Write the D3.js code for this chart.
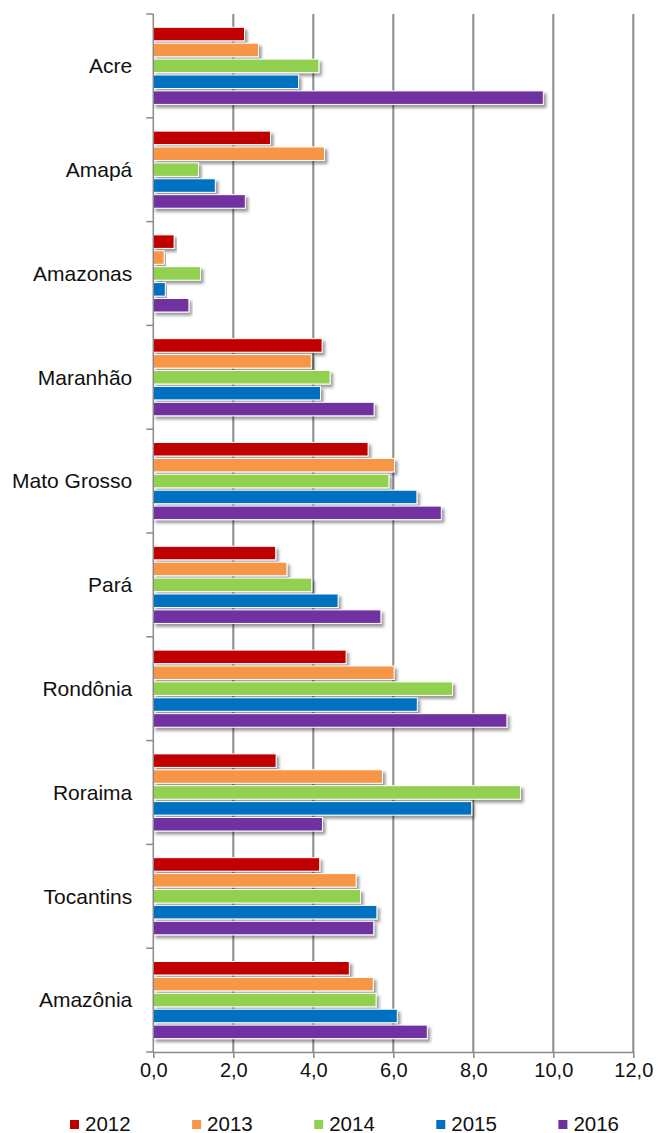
<!DOCTYPE html>
<html>
<head>
<meta charset="utf-8">
<script src="https://cdn.jsdelivr.net/npm/d3@7/dist/d3.min.js"></script>
<style>
  html, body { margin: 0; padding: 0; background: #fff; }
  svg { display: block; font-family: "Liberation Sans", Arial, sans-serif; }
</style>
</head>
<body>
<svg id="chart" width="658" height="1133"></svg>
<script>
// Regions (top to bottom)
const categories = ["Acre", "Amapá", "Amazonas", "Maranhão", "Mato Grosso", "Pará", "Rondônia", "Roraima", "Tocantins", "Amazônia"];
const years = ["2012", "2013", "2014", "2015", "2016"];
const colors = ["#C00000", "#F79646", "#92D050", "#0070C0", "#7030A0"];

// Values per year, in the same order as categories
const v2012 = [2.28, 2.93, 0.52, 4.22, 5.37, 3.06, 4.82, 3.07, 4.16, 4.90];
const v2013 = [2.63, 4.28, 0.27, 3.95, 6.03, 3.34, 6.02, 5.73, 5.07, 5.50];
const v2014 = [4.14, 1.13, 1.18, 4.42, 5.89, 3.96, 7.48, 9.18, 5.18, 5.57];
const v2015 = [3.63, 1.55, 0.30, 4.18, 6.59, 4.62, 6.60, 7.96, 5.59, 6.10];
const v2016 = [9.75, 2.30, 0.89, 5.52, 7.20, 5.69, 8.84, 4.23, 5.51, 6.85];
const seriesValues = [v2012, v2013, v2014, v2015, v2016];

const xTicks = [0, 2, 4, 6, 8, 10, 12];

const svg = d3.select("#chart");
const margin = { left: 153.3, right: 24.7, top: 14, bottom: 81 };
const W = 658, H = 1133;
const plotW = W - margin.left - margin.right;
const plotH = H - margin.top - margin.bottom;

const defs = svg.append("defs");
const shadow = defs.append("filter").attr("id", "barShadow")
  .attr("x", "-5%").attr("y", "-40%").attr("width", "115%").attr("height", "200%");
shadow.append("feDropShadow")
  .attr("dx", 2.5).attr("dy", 3).attr("stdDeviation", 1.8)
  .attr("flood-color", "#000").attr("flood-opacity", 0.4);

const g = svg.append("g").attr("transform", `translate(${margin.left},${margin.top})`);

const x = d3.scaleLinear().domain([0, 12]).range([0, plotW]);
const y = d3.scaleBand().domain(categories).range([0, plotH]).paddingInner(0).paddingOuter(0);
const bw = y.bandwidth();
const ySub = d3.scaleBand().domain(years)
  .range([bw * 0.128, bw * 0.871]).paddingInner(0.15).paddingOuter(0);
const color = d3.scaleOrdinal().domain(years).range(colors);

const gray = "#8a8a8a";

// Vertical gridlines
g.append("g").selectAll("line")
  .data(xTicks.filter(d => d > 0))
  .join("line")
  .attr("x1", d => x(d)).attr("x2", d => x(d))
  .attr("y1", 0).attr("y2", plotH)
  .attr("stroke", gray).attr("stroke-width", 2);

// Bars
const rows = categories.map((c, i) => ({
  cat: c,
  vals: years.map((yr, j) => ({ year: yr, value: seriesValues[j][i] }))
}));

const groups = g.append("g").selectAll("g")
  .data(rows).join("g")
  .attr("transform", d => `translate(0,${y(d.cat)})`);

groups.selectAll("rect")
  .data(d => d.vals).join("rect")
  .attr("x", x(0))
  .attr("y", d => ySub(d.year))
  .attr("width", d => x(d.value) - x(0))
  .attr("height", ySub.bandwidth())
  .attr("fill", d => color(d.year))
  .attr("stroke", "#fff").attr("stroke-width", 1)
  .attr("filter", "url(#barShadow)");

// Category axis: boundary ticks and labels
const yAxis = g.append("g");
yAxis.append("line")
  .attr("x1", 0).attr("x2", 0).attr("y1", 0).attr("y2", plotH)
  .attr("stroke", gray).attr("stroke-width", 1.5);
const bounds = categories.map(c => y(c)).concat([plotH]);
yAxis.selectAll("line.tick").data(bounds).join("line")
  .attr("class", "tick")
  .attr("x1", -7).attr("x2", 0)
  .attr("y1", d => d).attr("y2", d => d)
  .attr("stroke", gray).attr("stroke-width", 1.5);
yAxis.selectAll("text").data(categories).join("text")
  .attr("x", -21)
  .attr("y", d => y(d) + bw / 2)
  .attr("dy", "0.35em")
  .attr("text-anchor", "end")
  .attr("font-size", 21)
  .attr("fill", "#111")
  .text(d => d);

// Value axis
const fmt = d => d3.format(".1f")(d).replace(".", ",");
const xAxis = g.append("g")
  .attr("transform", `translate(0,${plotH})`)
  .call(d3.axisBottom(x).tickValues(xTicks).tickFormat(fmt).tickSize(6).tickPadding(5).tickSizeOuter(0));
xAxis.select(".domain").attr("stroke", gray).attr("stroke-width", 1.5);
xAxis.selectAll(".tick line").attr("stroke", gray).attr("stroke-width", 1.5);
xAxis.selectAll(".tick text")
  .attr("font-size", 20)
  .attr("font-family", "Liberation Sans, Arial, sans-serif")
  .attr("fill", "#111");

// Legend
const legend = svg.append("g").attr("transform", "translate(70,1120)");
const items = legend.selectAll("g").data(years).join("g")
  .attr("transform", (d, i) => `translate(${i * 122.1},0)`);
items.append("rect")
  .attr("width", 9).attr("height", 9)
  .attr("fill", d => color(d));
items.append("text")
  .attr("x", 15).attr("y", 10.5)
  .attr("font-size", 20.5)
  .attr("fill", "#111")
  .text(d => d);
</script>
</body>
</html>
